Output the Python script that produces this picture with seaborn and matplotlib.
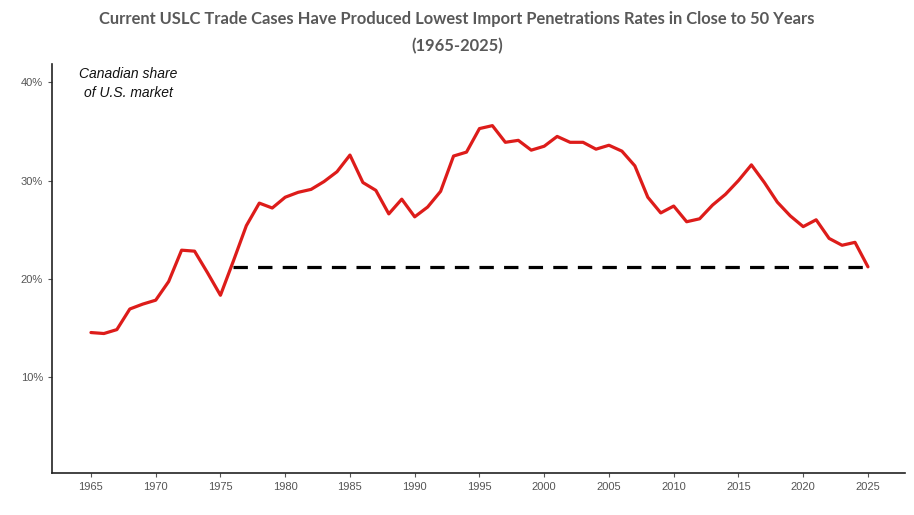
#!/usr/bin/env python3
"""Canadian share of the U.S. market, 1965-2025, with the 2025 level marked back to 1976."""

import matplotlib

matplotlib.use("Agg")

import matplotlib.pyplot as plt
from matplotlib.ticker import PercentFormatter
import pandas as pd
import seaborn as sns


YEARS = list(range(1965, 2026))
SHARE = [
    14.5, 14.4, 14.8, 16.9, 17.4, 17.8, 19.7, 22.9, 22.8, 20.6,
    18.3, 21.8, 25.4, 27.7, 27.2, 28.3, 28.8, 29.1, 29.9, 30.9,
    32.6, 29.8, 29.0, 26.6, 28.1, 26.3, 27.3, 28.9, 32.5, 32.9,
    35.3, 35.6, 33.9, 34.1, 33.1, 33.5, 34.5, 33.9, 33.9, 33.2,
    33.6, 33.0, 31.5, 28.3, 26.7, 27.4, 25.8, 26.1, 27.5, 28.6,
    30.0, 31.6, 29.8, 27.8, 26.4, 25.3, 26.0, 24.1, 23.4, 23.7,
    21.2,
]
REF_START, REF_END = 1976, 2025
REF_LEVEL = 21.2
X_TICKS = list(range(1965, 2026, 5))
Y_TICKS = [10, 20, 30, 40]

TITLE = ("Current USLC Trade Cases Have Produced Lowest Import Penetrations Rates in Close to 50 Years\n"
         "(1965-2025)")
NOTE = "Canadian share\nof U.S. market"


def main() -> None:
    df = pd.DataFrame({"year": YEARS, "share": [v / 100 for v in SHARE]})
    ref = pd.DataFrame({"year": [REF_START, REF_END], "share": [REF_LEVEL / 100] * 2})

    sns.set_theme(style="ticks")
    plt.rcParams["font.family"] = ["Liberation Sans", "DejaVu Sans"]

    fig = plt.figure(figsize=(9.14, 5.15), dpi=100)
    ax = fig.add_axes([0.057, 0.082, 0.933, 0.794])

    sns.lineplot(data=ref, x="year", y="share", ax=ax, color="black",
                 linewidth=2.3, linestyle=(0, (4.5, 3.2)))
    sns.lineplot(data=df, x="year", y="share", ax=ax, color="#dd1c1a", linewidth=2.3)

    ax.set_xlim(1962.0, 2027.85)
    ax.set_ylim(0.002, 0.419)
    ax.set_xticks(X_TICKS)
    ax.set_yticks([t / 100 for t in Y_TICKS])
    ax.yaxis.set_major_formatter(PercentFormatter(1.0, decimals=0))
    ax.tick_params(axis="both", labelsize=8, colors="#555555", length=3, width=0.8)
    ax.set_xlabel("")
    ax.set_ylabel("")
    for side in ("top", "right"):
        ax.spines[side].set_visible(False)
    for side in ("left", "bottom"):
        ax.spines[side].set_color("#222222")
        ax.spines[side].set_linewidth(1.2)

    ax.text(1967.9, 0.416, NOTE, ha="center", va="top", style="italic",
            fontsize=10, color="#111111", linespacing=1.5)

    fig.text(0.5, 0.978, TITLE, ha="center", va="top", fontsize=11.9,
             fontweight="bold", color="#595959", family=["Lato", "DejaVu Sans"],
             linespacing=1.8)

    fig.savefig("out.png", dpi=100)
    plt.close(fig)


if __name__ == "__main__":
    main()
